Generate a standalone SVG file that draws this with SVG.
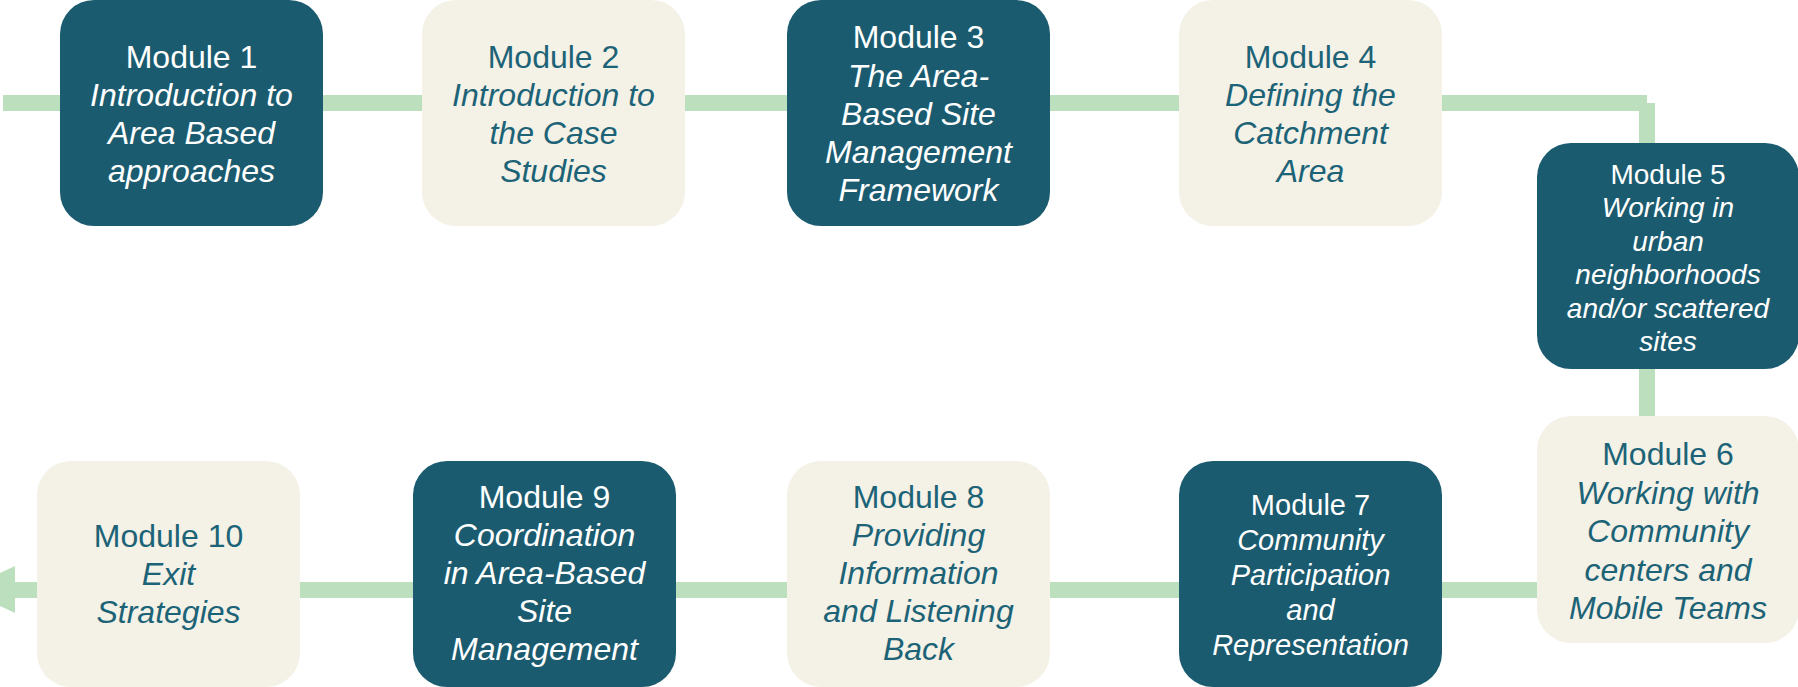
<svg xmlns="http://www.w3.org/2000/svg" width="1798" height="687" viewBox="0 0 1798 687">
<style>
.dark{fill:#1b5b6f}
.light{fill:#f4f1e6}
.line{fill:#bcdfbd}
text{font-family:"Liberation Sans",Arial,sans-serif;text-anchor:middle;font-size:32px}
.dt{fill:#ffffff}
.lt{fill:#1c6377}
.i{font-style:italic}
.s28{font-size:28px}
.s29{font-size:29px}
</style>
<g id="connectors">
<rect class="line" x="3" y="95" width="1644" height="16"/>
<rect class="line" x="1639" y="103" width="16" height="40"/>
<rect class="line" x="1639" y="369" width="16" height="47"/>
<rect class="line" x="15" y="582" width="1522" height="16"/>
<polygon class="line" points="15,566 15,613 -35,589.5"/>
</g>
<g id="module1">
<rect class="dark" x="60" y="0" width="263" height="226" rx="34"/>
<text class="dt" x="191.5" y="68">Module 1</text>
<text class="dt i" x="191.5" y="106">Introduction to</text>
<text class="dt i" x="191.5" y="144">Area Based</text>
<text class="dt i" x="191.5" y="182">approaches</text>
</g>
<g id="module2">
<rect class="light" x="422" y="0" width="263" height="226" rx="34"/>
<text class="lt" x="553.5" y="68">Module 2</text>
<text class="lt i" x="553.5" y="106">Introduction to</text>
<text class="lt i" x="553.5" y="144">the Case</text>
<text class="lt i" x="553.5" y="182">Studies</text>
</g>
<g id="module3">
<rect class="dark" x="787" y="0" width="263" height="226" rx="34"/>
<text class="dt" x="918.5" y="48">Module 3</text>
<text class="dt i" x="918.5" y="87">The Area-</text>
<text class="dt i" x="918.5" y="125">Based Site</text>
<text class="dt i" x="918.5" y="163">Management</text>
<text class="dt i" x="918.5" y="201">Framework</text>
</g>
<g id="module4">
<rect class="light" x="1179" y="0" width="263" height="226" rx="34"/>
<text class="lt" x="1310.5" y="68">Module 4</text>
<text class="lt i" x="1310.5" y="106">Defining the</text>
<text class="lt i" x="1310.5" y="144">Catchment</text>
<text class="lt i" x="1310.5" y="182">Area</text>
</g>
<g id="module5">
<rect class="dark" x="1537" y="143" width="262" height="226" rx="34"/>
<text class="dt s28" x="1668" y="184">Module 5</text>
<text class="dt i s28" x="1668" y="217.4">Working in</text>
<text class="dt i s28" x="1668" y="250.8">urban</text>
<text class="dt i s28" x="1668" y="284.2">neighborhoods</text>
<text class="dt i s28" x="1668" y="317.6">and/or scattered</text>
<text class="dt i s28" x="1668" y="351">sites</text>
</g>
<g id="module6">
<rect class="light" x="1537" y="416" width="262" height="227" rx="34"/>
<text class="lt" x="1668" y="465">Module 6</text>
<text class="lt i" x="1668" y="504">Working with</text>
<text class="lt i" x="1668" y="542">Community</text>
<text class="lt i" x="1668" y="581">centers and</text>
<text class="lt i" x="1668" y="619">Mobile Teams</text>
</g>
<g id="module7">
<rect class="dark" x="1179" y="461" width="263" height="226" rx="34"/>
<text class="dt s29" x="1310.5" y="515">Module 7</text>
<text class="dt i s29" x="1310.5" y="550">Community</text>
<text class="dt i s29" x="1310.5" y="585">Participation</text>
<text class="dt i s29" x="1310.5" y="620">and</text>
<text class="dt i s29" x="1310.5" y="655">Representation</text>
</g>
<g id="module8">
<rect class="light" x="787" y="461" width="263" height="226" rx="34"/>
<text class="lt" x="918.5" y="508">Module 8</text>
<text class="lt i" x="918.5" y="546">Providing</text>
<text class="lt i" x="918.5" y="584">Information</text>
<text class="lt i" x="918.5" y="622">and Listening</text>
<text class="lt i" x="918.5" y="660">Back</text>
</g>
<g id="module9">
<rect class="dark" x="413" y="461" width="263" height="226" rx="34"/>
<text class="dt" x="544.5" y="508">Module 9</text>
<text class="dt i" x="544.5" y="546">Coordination</text>
<text class="dt i" x="544.5" y="584">in Area-Based</text>
<text class="dt i" x="544.5" y="622">Site</text>
<text class="dt i" x="544.5" y="660">Management</text>
</g>
<g id="module10">
<rect class="light" x="37" y="461" width="263" height="226" rx="34"/>
<text class="lt" x="168.5" y="547">Module 10</text>
<text class="lt i" x="168.5" y="585">Exit</text>
<text class="lt i" x="168.5" y="623">Strategies</text>
</g>
</svg>
